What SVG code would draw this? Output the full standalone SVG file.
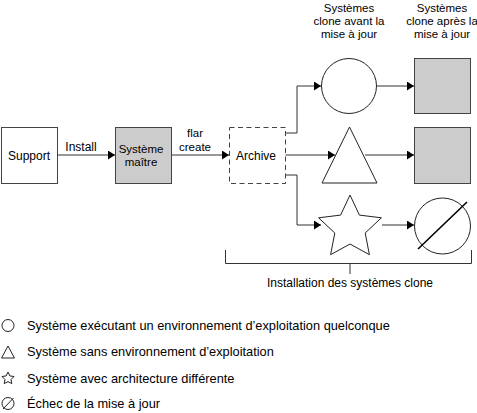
<svg xmlns="http://www.w3.org/2000/svg" width="477" height="413" viewBox="0 0 477 413">
<defs>
<marker id="arr" markerWidth="8" markerHeight="10" refX="7" refY="4.5" orient="auto" markerUnits="userSpaceOnUse">
<path d="M0,0 L7,4.5 L0,9 Z" fill="#000"/>
</marker>
<style>
text{font-family:"Liberation Sans",Arial,sans-serif;font-size:12px;fill:#000}
.s{font-size:11.5px}
.lg{font-size:12.8px}
.c{text-anchor:middle}
.box{stroke:#444;stroke-width:1;fill:#fff}
.gray{fill:#cccccc}
.ln{stroke:#333;stroke-width:1;fill:none}
.sh{stroke:#222;stroke-width:1;fill:#fff}
</style>
</defs>
<rect width="477" height="413" fill="#fff"/>

<g id="connectors">
<line class="ln" x1="57" y1="155" x2="115" y2="155" marker-end="url(#arr)"/>
<line class="ln" x1="171" y1="155" x2="229" y2="155" marker-end="url(#arr)"/>
<polyline class="ln" points="285,133 297,133 297,86 321,86" marker-end="url(#arr)"/>
<line class="ln" x1="285" y1="155" x2="335" y2="155" marker-end="url(#arr)"/>
<polyline class="ln" points="285,175 297,175 297,225 321,225" marker-end="url(#arr)"/>
<line class="ln" x1="377" y1="86" x2="414" y2="86" marker-end="url(#arr)"/>
<line class="ln" x1="365" y1="155" x2="414" y2="155" marker-end="url(#arr)"/>
<line class="ln" x1="382" y1="225" x2="414" y2="225" marker-end="url(#arr)"/>
<text class="c" x="81" y="151">Install</text>
<text class="c s" x="195" y="137">flar</text>
<text class="c s" x="195" y="151">create</text>
</g>

<g id="support">
<rect class="box" x="1.5" y="127.5" width="56" height="56"/>
<text class="c" x="29" y="160">Support</text>
</g>
<g id="systeme-maitre">
<rect class="box gray" x="115.5" y="127.5" width="56" height="56"/>
<text class="c s" x="141" y="153">Système</text>
<text class="c s" x="141" y="166">maître</text>
</g>
<g id="archive">
<rect class="box" x="229.5" y="127.5" width="56" height="56" stroke-dasharray="5,3.5"/>
<text class="c" x="256" y="160">Archive</text>
</g>

<g id="header-avant">
<text class="c s" x="349" y="11.5">Systèmes</text>
<text class="c s" x="349" y="24.5">clone avant la</text>
<text class="c s" x="349" y="37.5">mise à jour</text>
</g>
<g id="header-apres">
<text class="c s" x="442" y="11.5">Systèmes</text>
<text class="c s" x="442" y="24.5">clone après la</text>
<text class="c s" x="442" y="37.5">mise à jour</text>
</g>

<g id="clone-circle">
<circle class="sh" cx="349" cy="86" r="27.5"/>
</g>
<g id="clone-triangle">
<polygon class="sh" points="349.5,127 322,183 377,183"/>
</g>
<g id="clone-star">
<polygon class="sh" points="350,195 359.4,215.1 381.4,217.8 365.2,233 369.4,254.7 350,244 330.6,254.7 334.8,233 318.6,217.8 340.6,215.1"/>
</g>
<g id="after-square-1">
<rect class="box gray" x="414.5" y="58.5" width="56" height="55"/>
</g>
<g id="after-square-2">
<rect class="box gray" x="414.5" y="127.5" width="56" height="56"/>
</g>
<g id="after-failed">
<circle class="sh" cx="442.5" cy="226" r="28"/>
<line x1="418" y1="249" x2="467" y2="202" stroke="#000" stroke-width="1.6"/>
</g>

<g id="bracket">
<polyline class="ln" points="225.5,250 225.5,263.5 471.5,263.5 471.5,250"/>
<line class="ln" x1="350" y1="263.5" x2="350" y2="274"/>
<text class="c" x="350" y="287">Installation des systèmes clone</text>
</g>

<g id="legend">
<circle class="sh" cx="8" cy="325.5" r="6"/>
<text class="lg" x="27" y="330">Système exécutant un environnement d’exploitation quelconque</text>
<polygon class="sh" points="8,346 1.5,358 14.5,358"/>
<text class="lg" x="27" y="356">Système sans environnement d’exploitation</text>
<polygon class="sh" points="8,372 9.8,375.9 14,376.5 11,379.5 11.8,383.6 8,381.6 4.2,383.6 5,379.5 2,376.5 6.2,375.9"/>
<text class="lg" x="27" y="383">Système avec architecture différente</text>
<circle class="sh" cx="8" cy="403.5" r="6"/>
<line x1="3" y1="409" x2="13.5" y2="398" stroke="#222" stroke-width="1"/>
<text class="lg" x="27" y="408">Échec de la mise à jour</text>
</g>
</svg>
